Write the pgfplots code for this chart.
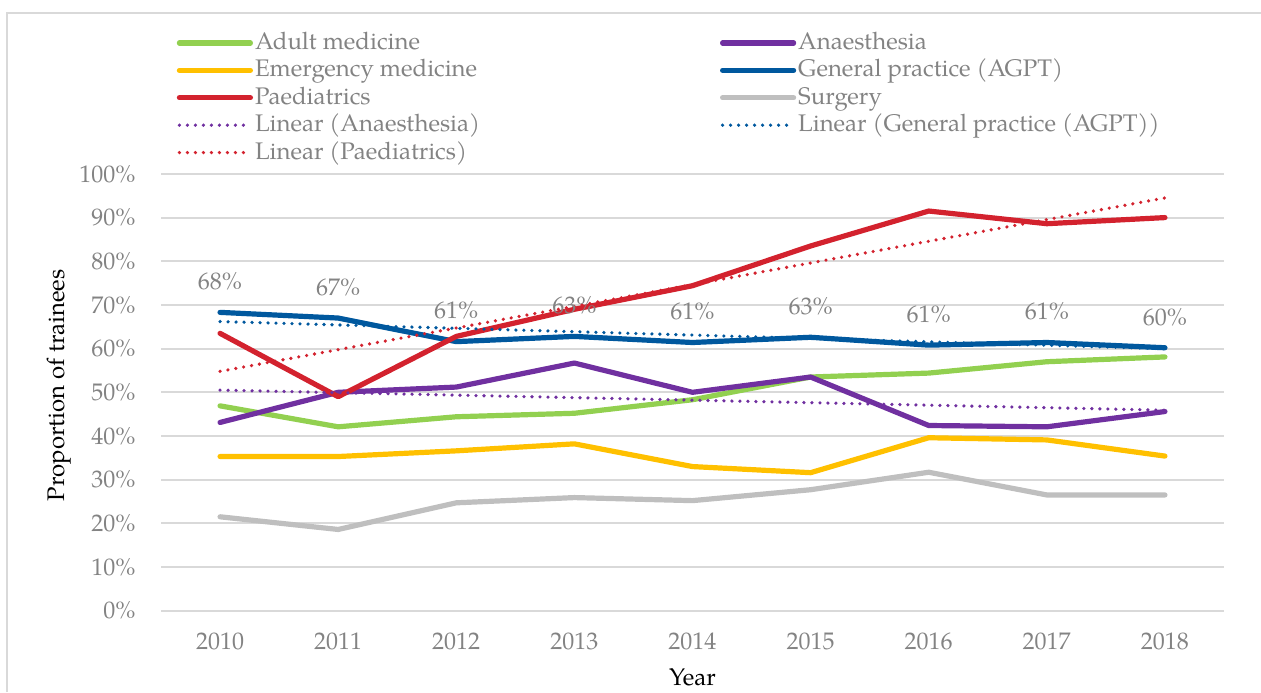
\documentclass[border=0pt]{standalone}
\usepackage{fontspec}
\setmainfont{TeX Gyre Pagella}
\usepackage{xcolor}
\usepackage{pgfplots}
\pgfplotsset{compat=1.18}
\definecolor{cAdult}{HTML}{92D050}
\definecolor{cAna}{HTML}{7030A0}
\definecolor{cEmerg}{HTML}{FFC000}
\definecolor{cGP}{HTML}{00589E}
\definecolor{cPaed}{HTML}{D3222E}
\definecolor{cSurg}{HTML}{BFBFBF}
\definecolor{txtgray}{HTML}{838383}
\definecolor{gridgray}{HTML}{D9D9D9}

\begin{document}
\fontsize{12}{14}\selectfont
\begin{tikzpicture}
\useasboundingbox (0,0) rectangle (630.5pt,346pt);
\draw[gridgray, line width=0.75pt] (3.5pt,0pt) -- (3.5pt,339.5pt) -- (630.5pt,339.5pt);
\begin{axis}[
  at={(80.5pt,40.65pt)}, anchor=south west,
  scale only axis, width=531.5pt, height=218.4pt,
  xmin=2009.5, xmax=2018.5, ymin=0, ymax=100,
  xtick={2010,...,2018},
  xticklabels={2010,2011,2012,2013,2014,2015,2016,2017,2018},
  ytick={0,10,...,100},
  yticklabels={0\%,10\%,20\%,30\%,40\%,50\%,60\%,70\%,80\%,90\%,100\%},
  major tick length=0pt,
  axis line style={draw=none},
  ymajorgrids, grid style={gridgray, line width=1pt},
  tick label style={text=txtgray, font=\fontsize{12}{14}\selectfont},
  yticklabel style={inner sep=0pt, anchor=east, xshift=-12.5pt},
  xticklabel style={inner sep=0pt, anchor=north, yshift=-11pt},
  xlabel={Year}, ylabel={Proportion of trainees},
  label style={text=txtgray, font=\fontsize{14.5}{16}\selectfont, inner sep=0pt},
  every axis y label/.style={at={(axis description cs:-0.096,0.5157)}, rotate=90, anchor=center},
  every axis x label/.style={at={(axis description cs:0.5,-0.1715)}, anchor=base},
  clip=false,
  legend columns=2,
  legend cell align=left,
  legend image code/.code={\draw[#1] (0pt,0pt) -- (35.5pt,0pt);},
  legend style={at={(axis description cs:0.0145,1.327)}, anchor=north west,
    draw=none, fill=none, inner sep=0pt, row sep=2.2pt,
    font=\fontsize{12}{14}\selectfont, text=txtgray,
    nodes={inner sep=0pt, text height=9pt, text depth=2.5pt},
    /tikz/every odd column/.append style={column sep=1pt}},
  solid/.style={line width=2.6pt, line cap=round, line join=round},
  trend/.style={line width=1.8pt, line cap=round, dash pattern=on 0pt off 4pt},
]
\addplot[solid, cAdult] coordinates {(2010,46.9) (2011,42.1) (2012,44.4) (2013,45.2) (2014,48.3) (2015,53.5) (2016,54.4) (2017,57.0) (2018,58.1)};
\addlegendentry{\makebox[232.5pt][l]{Adult medicine}}
\addplot[solid, cAna] coordinates {(2010,43.1) (2011,50.0) (2012,51.2) (2013,56.7) (2014,50.0) (2015,53.5) (2016,42.4) (2017,42.1) (2018,45.6)};
\addlegendentry{Anaesthesia}
\addplot[solid, cEmerg] coordinates {(2010,35.3) (2011,35.3) (2012,36.6) (2013,38.2) (2014,33.0) (2015,31.6) (2016,39.6) (2017,39.1) (2018,35.4)};
\addlegendentry{\makebox[232.5pt][l]{Emergency medicine}}
\addplot[solid, cGP, nodes near coords, point meta=explicit symbolic,
  every node near coord/.append style={text=txtgray, anchor=center, yshift=15.5pt, inner sep=0pt, font=\fontsize{12}{14}\selectfont}]
  coordinates {(2010,68.3) [68\%] (2011,67.0) [67\%] (2012,61.6) [61\%] (2013,62.8) [63\%] (2014,61.4) [61\%] (2015,62.6) [63\%] (2016,60.8) [61\%] (2017,61.4) [61\%] (2018,60.2) [60\%]};
\addlegendentry{General practice (AGPT)}
\addplot[solid, cPaed] coordinates {(2010,63.5) (2011,49.0) (2012,62.8) (2013,69.0) (2014,74.4) (2015,83.5) (2016,91.5) (2017,88.6) (2018,90.0)};
\addlegendentry{\makebox[232.5pt][l]{Paediatrics}}
\addplot[solid, cSurg] coordinates {(2010,21.5) (2011,18.6) (2012,24.7) (2013,25.9) (2014,25.2) (2015,27.7) (2016,31.7) (2017,26.5) (2018,26.5)};
\addlegendentry{Surgery}
\addplot[trend, cAna] coordinates {(2010,50.5) (2018,45.9)};
\addlegendentry{\makebox[232.5pt][l]{Linear (Anaesthesia)}}
\addplot[trend, cGP] coordinates {(2010,66.2) (2018,60.0)};
\addlegendentry{Linear (General practice (AGPT))}
\addplot[trend, cPaed] coordinates {(2010,54.8) (2018,94.5)};
\addlegendentry{\makebox[232.5pt][l]{Linear (Paediatrics)}}
\end{axis}
\end{tikzpicture}
\end{document}
